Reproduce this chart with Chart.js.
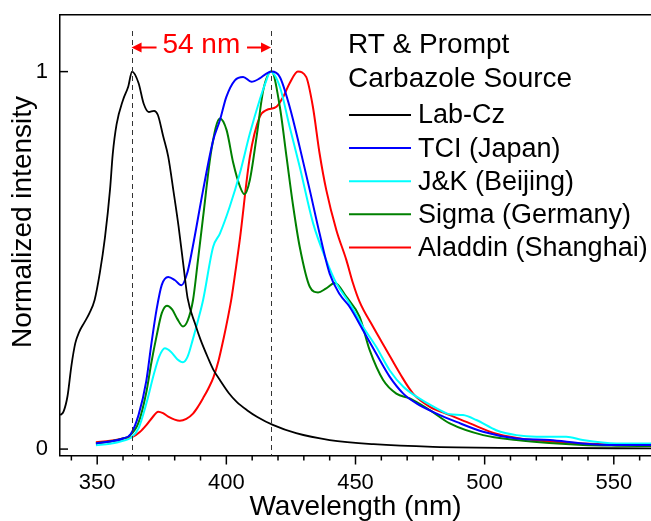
<!DOCTYPE html>
<html>
<head>
<meta charset="utf-8">
<title>Carbazole PL spectra</title>
<script src="https://cdn.jsdelivr.net/npm/chart.js@4.4.1/dist/chart.umd.min.js"></script>
<style>
html, body { margin: 0; padding: 0; background: #fff; }
</style>
</head>
<body>
<canvas id="specChart" width="651" height="521"></canvas>
<script>
// wavelength (nm) / normalized intensity
let labCzX = [335.7,337,338.5,340,341.5,343,345,347,349,351,353,355,356,357.5,360,362,363.5,366,368,370,372,373.5,375.5,377.5,379.5,381.5,383.5,385,388,390,393,395,397.5,401,404,408,412,418,427,440,457,480,520,564.4];
let labCzY = [0.09,0.10,0.14,0.22,0.28,0.31,0.335,0.36,0.395,0.466,0.56,0.69,0.78,0.86,0.925,0.96,1.0,0.97,0.915,0.893,0.896,0.885,0.83,0.775,0.685,0.59,0.48,0.40,0.33,0.29,0.24,0.21,0.183,0.148,0.125,0.103,0.085,0.064,0.042,0.024,0.013,0.006,0.003,0.002];

let tciX = [349.5,355,360,363,366,369,371,373,375,377.5,380,382.6,385,387,391,394.9,397.5,400,403.3,406.5,409.7,412.9,415.5,417.5,420.7,424.5,428.4,432.3,436.1,440,443.9,447.7,452.9,458,463.2,468.5,473.6,481.4,489.1,499.4,512.3,525.2,538,551,564.4];
let tciY = [0.015,0.02,0.028,0.04,0.09,0.18,0.28,0.37,0.435,0.456,0.448,0.434,0.47,0.536,0.686,0.818,0.871,0.933,0.977,0.986,0.973,0.982,0.995,1.0,0.986,0.907,0.80,0.686,0.571,0.465,0.41,0.377,0.315,0.253,0.192,0.147,0.121,0.094,0.072,0.046,0.028,0.024,0.015,0.011,0.011];

let jkX = [349.5,355,360,363,366,369,372,374,376.2,378.5,381,383.2,385,387,389,391,394.9,397.5,401.3,405.2,409.1,412.9,415.5,417,420.7,424.5,428.4,433.6,438.7,442.6,447.7,452.9,458,463.2,468.5,473.6,481.4,486.5,491.6,496.8,504.5,512.3,520,525.2,531.6,538,551,564.4];
let jkY = [0.01,0.014,0.022,0.03,0.055,0.12,0.2,0.245,0.267,0.258,0.238,0.23,0.245,0.29,0.34,0.395,0.536,0.571,0.642,0.73,0.836,0.925,0.977,1.0,0.96,0.854,0.748,0.598,0.50,0.439,0.386,0.324,0.271,0.209,0.165,0.139,0.108,0.092,0.09,0.077,0.05,0.037,0.033,0.033,0.033,0.024,0.015,0.015];

let sigmaX = [349.5,355,360,362.5,366,369,371,373,375,377,379,381,383.2,385,387.1,389,391,394.2,397.5,400.1,402.7,405.3,407,409.1,411.7,414.3,417.5,420.7,423.3,425.9,428.4,432.3,435.5,438.5,442,446.5,451.6,455.5,460.7,465.8,471,478.8,486.5,499.4,512.3,525,538,551,564.4];
let sigmaY = [0.015,0.02,0.028,0.035,0.07,0.15,0.23,0.30,0.36,0.38,0.37,0.345,0.325,0.34,0.395,0.50,0.615,0.792,0.876,0.845,0.757,0.695,0.675,0.713,0.827,0.951,1.0,0.907,0.774,0.642,0.536,0.43,0.415,0.425,0.44,0.403,0.35,0.262,0.183,0.147,0.134,0.103,0.068,0.037,0.024,0.016,0.011,0.009,0.008];

let aladdinX = [349.5,355,360,363.9,366.5,369.1,371.5,373.6,375.5,377.5,380,382,384.5,387.1,389,391,393,395,397,399,400.5,402,403.5,405.2,409.1,412.9,415.5,419.4,422,424.5,427.7,430.9,433.5,436.1,438.7,442.6,446.5,449,451.6,456.8,462,467.2,472.3,478.8,486.5,494.3,504.5,518.7,538,551,564.4];
let aladdinY = [0.018,0.022,0.028,0.033,0.045,0.064,0.085,0.099,0.095,0.086,0.078,0.075,0.08,0.094,0.112,0.135,0.16,0.19,0.235,0.295,0.345,0.40,0.47,0.554,0.774,0.88,0.898,0.907,0.933,0.969,1.0,0.986,0.907,0.783,0.686,0.58,0.50,0.44,0.39,0.324,0.262,0.20,0.147,0.112,0.09,0.068,0.041,0.024,0.015,0.012,0.011];

let seriesNames = ['Lab-Cz','TCI (Japan)','J&K (Beijing)','Sigma (Germany)','Aladdin (Shanghai)'];
let seriesColors = ['#000000','#0000ff','#00ffff','#008000','#ff0000'];
let peakMarks = [363.3, 417.3];   // dashed lines, 54 nm apart
let yTickValues = [0, 1];

const FONT = '"Liberation Sans", Arial, Helvetica, sans-serif';

function toPoints(xs, ys) {
    return xs.map((v, i) => ({x: v, y: ys[i]}));
}

// ticks, y title, peak markers, 54 nm arrow and the legend block
const decor = {
    id: 'decor',
    afterDatasetsDraw(chart) {
        const {ctx, chartArea: a, scales: {x, y}} = chart;
        ctx.save();
        ctx.strokeStyle = '#000';
        ctx.lineWidth = 1.5;
        x.ticks.forEach(t => {
            const px = x.getPixelForValue(t.value);
            const len = t.value % 50 === 0 ? 9 : 5;
            ctx.beginPath();
            ctx.moveTo(px, a.bottom);
            ctx.lineTo(px, a.bottom + len);
            ctx.stroke();
        });
        y.ticks.forEach(t => {
            const py = y.getPixelForValue(t.value);
            ctx.beginPath();
            ctx.moveTo(a.left, py);
            ctx.lineTo(a.left + 8, py);
            ctx.stroke();
        });

        // y title sits a bit above the axis centre in the original
        ctx.save();
        ctx.translate(23, 222);
        ctx.rotate(-Math.PI / 2);
        ctx.fillStyle = '#000';
        ctx.font = '28px ' + FONT;
        ctx.textAlign = 'center';
        ctx.textBaseline = 'middle';
        ctx.fillText('Normalized intensity', 0, 0);
        ctx.restore();

        // dashed lines at the two peaks
        ctx.lineWidth = 1;
        ctx.strokeStyle = '#333';
        ctx.setLineDash([5, 4]);
        peakMarks.forEach(v => {
            const px = Math.round(x.getPixelForValue(v)) + 0.5;
            ctx.beginPath();
            ctx.moveTo(px, 31);
            ctx.lineTo(px, a.bottom);
            ctx.stroke();
        });
        ctx.setLineDash([]);

        // arrows + "54 nm"
        const xL = x.getPixelForValue(peakMarks[0]);
        const xR = x.getPixelForValue(peakMarks[1]);
        const ay = 47.5;
        ctx.strokeStyle = '#ff0000';
        ctx.fillStyle = '#ff0000';
        ctx.lineWidth = 2;
        ctx.beginPath();
        ctx.moveTo(xL + 6, ay); ctx.lineTo(xL + 25, ay);
        ctx.moveTo(xR - 24, ay); ctx.lineTo(xR - 6, ay);
        ctx.stroke();
        ctx.beginPath();
        ctx.moveTo(xL, ay); ctx.lineTo(xL + 10, ay - 5); ctx.lineTo(xL + 10, ay + 5); ctx.closePath();
        ctx.moveTo(xR, ay); ctx.lineTo(xR - 10, ay - 5); ctx.lineTo(xR - 10, ay + 5); ctx.closePath();
        ctx.fill();
        ctx.font = '28px ' + FONT;
        ctx.textAlign = 'center';
        ctx.textBaseline = 'alphabetic';
        ctx.fillText(Math.round(peakMarks[1] - peakMarks[0]) + ' nm', (xL + xR) / 2, 53);

        // legend
        ctx.fillStyle = '#000';
        ctx.textAlign = 'left';
        ctx.fillText('RT & Prompt', 348, 53);
        ctx.fillText('Carbazole Source', 348, 87);
        ctx.font = '27px ' + FONT;
        ctx.textBaseline = 'middle';
        chart.data.datasets.forEach((ds, i) => {
            const ly = 115 + i * 33.1;
            ctx.strokeStyle = ds.borderColor;
            ctx.lineWidth = 2;
            ctx.beginPath();
            ctx.moveTo(349, ly);
            ctx.lineTo(411, ly);
            ctx.stroke();
            ctx.fillStyle = '#000';
            ctx.fillText(ds.label, 418, ly + 1);
        });
        ctx.restore();
    }
};

const seriesX = [labCzX, tciX, jkX, sigmaX, aladdinX];
const seriesY = [labCzY, tciY, jkY, sigmaY, aladdinY];

const noEdgePad = s => {
    s.paddingTop = 0;
    s.paddingBottom = 0;
    s.paddingLeft = 0;
    s.paddingRight = 0;
};

const ctx = document.getElementById('specChart').getContext('2d');
const specChart = new Chart(ctx, {
    type: 'line',
    data: {
        datasets: seriesNames.map((name, i) => ({
            label: name,
            data: toPoints(seriesX[i], seriesY[i]),
            borderColor: seriesColors[i],
            backgroundColor: seriesColors[i],
            borderWidth: i === 0 ? 1.8 : 2,
            pointRadius: 0,
            fill: false,
            cubicInterpolationMode: 'monotone'
        }))
    },
    options: {
        responsive: false,
        animation: false,
        layout: { padding: 0 },
        plugins: {
            legend: { display: false },
            tooltip: { enabled: false }
        },
        scales: {
            x: {
                type: 'linear',
                position: 'bottom',
                min: 335.6,
                max: 564.4,
                afterFit: s => { s.height = 65.5; noEdgePad(s); },
                grid: { display: true, drawOnChartArea: false, drawTicks: false },
                border: { display: true, color: '#000', width: 1.5 },
                ticks: {
                    stepSize: 10,
                    includeBounds: false,
                    autoSkip: false,
                    maxRotation: 0,
                    padding: 14,
                    color: '#000',
                    font: { family: FONT, size: 22 },
                    callback: v => (v % 50 === 0 ? v : '')
                },
                title: {
                    display: true,
                    text: 'Wavelength (nm)',
                    color: '#000',
                    font: { family: FONT, size: 28, lineHeight: 1.0 },
                    padding: { top: 0, bottom: 0 }
                }
            },
            xTop: {
                type: 'linear',
                position: 'top',
                min: 335.6,
                max: 564.4,
                afterFit: s => { s.height = 15; noEdgePad(s); },
                grid: { display: true, drawOnChartArea: false, drawTicks: false },
                border: { display: true, color: '#000', width: 1.5 },
                ticks: { display: false }
            },
            y: {
                type: 'linear',
                min: -0.017,
                max: 1.15,
                afterFit: s => { s.width = 60; noEdgePad(s); },
                afterBuildTicks: s => { s.ticks = yTickValues.map(v => ({value: v})); },
                grid: { display: true, drawOnChartArea: false, drawTicks: false },
                border: { display: true, color: '#000', width: 1.5 },
                ticks: {
                    padding: 12,
                    color: '#000',
                    font: { family: FONT, size: 22 }
                }
            }
        }
    },
    plugins: [decor]
});
</script>
</body>
</html>
